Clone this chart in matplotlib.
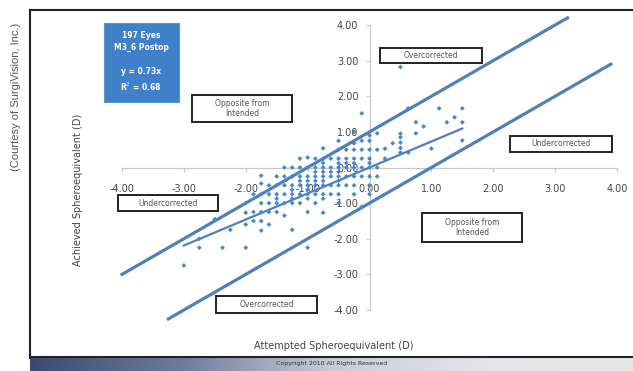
import numpy as np
import matplotlib
matplotlib.use("Agg")
import matplotlib.pyplot as plt
from matplotlib.patches import Rectangle
from matplotlib.colors import LinearSegmentedColormap

W, H = 633, 371

# attempted SE columns and the achieved SE of each eye in that column
columns = [-3.0, -2.75, -2.5, -2.375, -2.25, -2.0, -1.875, -1.75, -1.625, -1.5,
           -1.375, -1.25, -1.125, -1.0, -0.875, -0.75, -0.625, -0.5, -0.375,
           -0.25, -0.125, 0.0, 0.125, 0.25, 0.375, 0.5, 0.625, 0.75, 0.875,
           1.0, 1.125, 1.25, 1.375, 1.5]
achieved_by_col = [
    [-2.75],
    [-2.25, -2.0],
    [-1.45],
    [-2.25],
    [-1.75],
    [-2.25, -1.6, -1.27, -1.0],
    [-1.5, -1.25, -0.75],
    [-1.77, -1.5, -1.25, -1.0, -0.75, -0.45, -0.23],
    [-1.6, -1.25, -1.0, -0.75, -0.5],
    [-1.25, -1.0, -0.875, -0.75, -0.5, -0.25],
    [-1.35, -1.0, -0.75, -0.5, -0.25, 0.0],
    [-1.75, -1.0, -0.875, -0.75, -0.625, -0.5, -0.25, 0.0],
    [-1.0, -0.75, -0.5, -0.375, -0.25, 0.0, 0.25],
    [-2.25, -1.25, -0.875, -0.75, -0.625, -0.5, -0.375, -0.25, 0.0, 0.28],
    [-1.0, -0.75, -0.5, -0.375, -0.25, -0.125, 0.0, 0.25],
    [-1.27, -0.875, -0.75, -0.5, -0.375, -0.25, -0.125, 0.0, 0.125, 0.25, 0.54],
    [-0.75, -0.5, -0.25, -0.125, 0.0, 0.25],
    [-1.0, -0.75, -0.5, -0.375, -0.25, -0.125, 0.0, 0.125, 0.25, 0.5, 0.75],
    [-0.5, -0.25, 0.0, 0.125, 0.25, 0.5],
    [-0.75, -0.5, -0.25, 0.0, 0.125, 0.25, 0.5, 0.68, 1.0],
    [-1.1, -0.25, 0.0, 0.25, 0.5, 0.75, 1.52],
    [-0.75, -0.5, -0.25, 0.0, 0.125, 0.25, 0.5, 0.75, 0.9],
    [-0.25, 0.0, 0.5, 0.96],
    [0.25, 0.53],
    [0.68],
    [0.42, 0.55, 0.7, 0.85, 0.95, 2.82],
    [0.42, 1.66],
    [1.27, 0.96],
    [1.15],
    [0.53],
    [1.66],
    [1.27],
    [1.41],
    [1.66, 1.27, 0.76],
]

slope = 0.73
r_squared = 0.68
n_eyes = 197
trend_range = [-3.0, 1.5]
upper_band = [-4.0, 3.2]   # achieved = attempted + 1
lower_band = [-3.25, 3.9]  # achieved = attempted - 1
ticks = [-4, -3, -2, -1, 0, 1, 2, 3, 4]
tick_labels = ["%.2f" % t for t in ticks]

attempted = []
achieved = []
for x, ys in zip(columns, achieved_by_col):
    for y in ys:
        attempted.append(x)
        achieved.append(y)


def fx(px):
    return px / W


def fy(py):
    return 1 - py / H


fig = plt.figure(figsize=(W / 100, H / 100), dpi=100)
fig.patch.set_facecolor("white")

ax = fig.add_axes([fx(122), fy(310), fx(617) - fx(122), fy(25) - fy(310)])
ax.set_facecolor("none")
ax.set_xlim(-4, 4)
ax.set_ylim(-4, 4)
for side in ["top", "right"]:
    ax.spines[side].set_visible(False)
for side in ["left", "bottom"]:
    ax.spines[side].set_position("zero")
    ax.spines[side].set_color("#c8c8c8")
    ax.spines[side].set_linewidth(0.9)
ax.set_xticks(ticks)
ax.set_xticklabels(tick_labels)
ax.set_yticks(ticks)
ax.set_yticklabels(tick_labels)
ax.tick_params(axis="both", colors="#c8c8c8", labelcolor="#444444",
               labelsize=7, length=3, width=0.8)
ax.tick_params(axis="x", pad=9)
ax.tick_params(axis="y", pad=5)

line_col = "#4f80b8"
xs = np.array(upper_band)
ax.plot(xs, xs + 1, color=line_col, lw=2.3, clip_on=False, zorder=3)
xs = np.array(lower_band)
ax.plot(xs, xs - 1, color=line_col, lw=2.3, clip_on=False, zorder=3)
xs = np.array(trend_range)
ax.plot(xs, slope * xs, color=line_col, lw=1.6, zorder=3)

ax.scatter(attempted, achieved, marker="D", s=6, color="#4288d2",
           edgecolors="none", zorder=4)

# labelled regions
regions = [
    ("Overcorrected", 380, 48, 482, 63),
    ("Opposite from\nIntended", 192, 95, 292, 122),
    ("Undercorrected", 510, 136, 612, 152),
    ("Undercorrected", 118, 195, 218, 211),
    ("Opposite from\nIntended", 422, 213, 522, 242),
    ("Overcorrected", 216, 296, 317, 313),
]
for label, x0, y0, x1, y1 in regions:
    fig.add_artist(Rectangle((fx(x0), fy(y1)), fx(x1) - fx(x0), fy(y0) - fy(y1),
                             transform=fig.transFigure, facecolor="white",
                             edgecolor="#222222", lw=1.4, zorder=5))
    fig.text(fx((x0 + x1) / 2), fy((y0 + y1) / 2), label, ha="center",
             va="center", fontsize=5.5, color="#555555", linespacing=1.1,
             zorder=6)

# summary box
fig.add_artist(Rectangle((fx(104), fy(102)), fx(179) - fx(104), fy(23) - fy(102),
                         transform=fig.transFigure, facecolor="#3f80c8",
                         edgecolor="#5b93d3", lw=0.8, zorder=5))
summary = "%d Eyes\nM3_6 Postop\n\ny = %.2fx\nR$^2$ = %.2f" % (n_eyes, slope, r_squared)
fig.text(fx(141), fy(62), summary, ha="center", va="center", fontsize=5.5,
         color="white", linespacing=1.45, fontweight="bold", zorder=6)

# axis titles
fig.text(fx(78), fy(190), "Achieved Spheroequivalent (D)", rotation=90,
         ha="center", va="center", fontsize=7, color="#444444")
fig.text(fx(334), fy(346), "Attempted Spheroequivalent (D)", ha="center",
         va="center", fontsize=7, color="#444444")

# slide frame
fig.add_artist(plt.Line2D([fx(30), fx(30)], [fy(10), fy(358)],
                          transform=fig.transFigure, color="#222222", lw=1.5))
fig.add_artist(plt.Line2D([fx(30), 1], [fy(10), fy(10)],
                          transform=fig.transFigure, color="#222222", lw=1.5))

# footer bar
bar = fig.add_axes([fx(30), 0, 1 - fx(30), fy(357)])
cmap = LinearSegmentedColormap.from_list(
    "bar", ["#3a4a72", "#6f7b9c", "#c9ccd8", "#e4e4e8", "#e8e8ea"])
bar.imshow(np.linspace(0, 1, 256)[None, :], aspect="auto", cmap=cmap,
           extent=[0, 1, 0, 1])
bar.set_xlim(0, 1)
bar.set_ylim(0, 1)
bar.axis("off")
bar.text(0.5, 0.5, "Copyright 2010 All Rights Reserved", ha="center",
         va="center", fontsize=4.5, color="#333333")
fig.add_artist(plt.Line2D([fx(30), 1], [fy(357), fy(357)],
                          transform=fig.transFigure, color="#222222", lw=1.5))

fig.text(fx(16), fy(97), "(Courtesy of SurgiVision, Inc.)", rotation=90,
         ha="center", va="center", fontsize=8, color="#555555",
         family="Liberation Sans")

fig.savefig("out.png", dpi=100)
